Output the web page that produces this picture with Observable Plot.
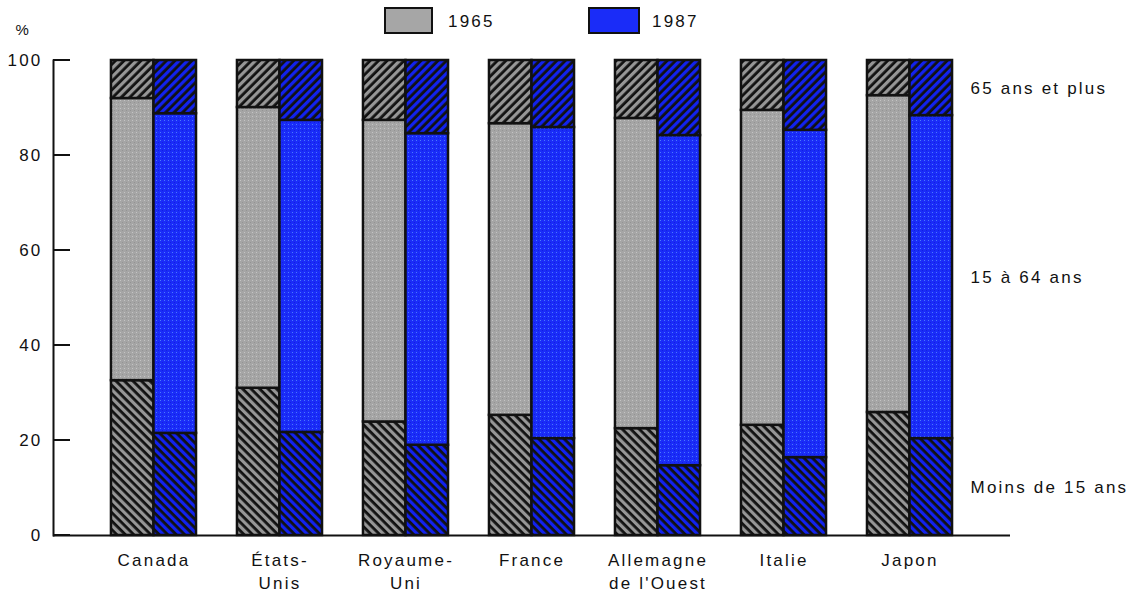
<!DOCTYPE html>
<html>
<head>
<meta charset="utf-8">
<script src="https://cdn.jsdelivr.net/npm/d3@7"></script>
<script src="https://cdn.jsdelivr.net/npm/@observablehq/plot@0.6"></script>
<style>
  body { margin: 0; background: #fff; font-family: "Liberation Sans", Arial, sans-serif; }
  #wrap { position: relative; width: 1141px; height: 600px; }
  .lg-sw { position: absolute; box-sizing: border-box; border: 2px solid #111; }
  .lg-tx { position: absolute; font-size: 17px; letter-spacing: 2.2px; color: #111; }
</style>
</head>
<body>
<div id="wrap">
  <div class="lg-sw" style="left:384px;top:7px;width:49px;height:27px;background:#a6a6a6;"></div>
  <div class="lg-tx" style="left:448px;top:12px;">1965</div>
  <div class="lg-sw" style="left:588px;top:7px;width:52px;height:27px;background:#1a2cf8;"></div>
  <div class="lg-tx" style="left:652px;top:12px;">1987</div>
</div>
<script>
// ---- data ----
const countries = ["Canada", "États-Unis", "Royaume-Uni", "France", "Allemagne de l'Ouest", "Italie", "Japon"];
const tickLabels = ["Canada", "États-\nUnis", "Royaume-\nUni", "France", "Allemagne\nde l'Ouest", "Italie", "Japon"];
const years = ["1965", "1987"];
const ageGroups = ["Moins de 15 ans", "15 à 64 ans", "65 ans et plus"];
const under15_1965 = [32.6, 31.0, 23.9, 25.3, 22.5, 23.2, 25.9];
const age15to64_1965 = [59.4, 59.1, 63.5, 61.4, 65.3, 66.3, 66.7];
const over65_1965 = [8.0, 9.9, 12.6, 13.3, 12.2, 10.5, 7.4];
const under15_1987 = [21.5, 21.7, 19.0, 20.4, 14.7, 16.4, 20.4];
const age15to64_1987 = [67.3, 65.7, 65.6, 65.5, 69.5, 68.9, 68.0];
const over65_1987 = [11.2, 12.6, 15.4, 14.1, 15.8, 14.7, 11.6];
const yTicks = [0, 20, 40, 60, 80, 100];
const yUnit = "%";

// ---- build rows (stacked) ----
const series = {
  "1965": [under15_1965, age15to64_1965, over65_1965],
  "1987": [under15_1987, age15to64_1987, over65_1987]
};
const patternIds = {
  "1965": ["hatchGreyB", "dotGrey", "hatchGreyF"],
  "1987": ["hatchBlueB", "dotBlue", "hatchBlueF"]
};
const rows = [];
for (const year of years) {
  countries.forEach((c, i) => {
    let acc = 0;
    ageGroups.forEach((g, k) => {
      const v = series[year][k][i];
      rows.push({country: c, year, group: g, y1: acc, y2: acc + v, fill: `url(#${patternIds[year][k]})`});
      acc += v;
    });
  });
}
const labelRows = ageGroups.map(g => rows.find(r => r.country === "Japon" && r.year === "1987" && r.group === g));

// ---- layout ----
const W = 1141, H = 600, mL = 53, mR = 131, mT = 60, mB = 65;
const padIn = 0.325, padOut = 0.46;
const step = (W - mL - mR) / (countries.length - padIn + 2 * padOut);
const bw = step * (1 - padIn);
const tickLen = 17;

const chart = Plot.plot({
  width: W, height: H,
  marginLeft: mL, marginRight: mR, marginTop: mT, marginBottom: mB,
  style: {fontFamily: "'Liberation Sans', Arial, sans-serif", fontSize: "17px", letterSpacing: "2.2px", color: "#111", background: "transparent"},
  x: {domain: countries, paddingInner: padIn, paddingOuter: padOut, round: false},
  y: {domain: [0, 100]},
  color: {type: "identity"},
  marks: [
    Plot.barY(rows.filter(r => r.year === "1965"), {x: "country", y1: "y1", y2: "y2", fill: "fill", stroke: "#111", strokeWidth: 2.5, insetRight: bw / 2}),
    Plot.barY(rows.filter(r => r.year === "1987"), {x: "country", y1: "y1", y2: "y2", fill: "fill", stroke: "#111", strokeWidth: 2.5, insetLeft: bw / 2}),
    Plot.axisX({tickSize: 0, tickPadding: 14, tickFormat: d => tickLabels[countries.indexOf(d)], lineHeight: 1.35, fontSize: 17, label: null}),
    Plot.axisY({ticks: yTicks, tickSize: 0, tickPadding: 11, fontSize: 17, label: null}),
    Plot.frame({anchor: "left", stroke: "#111", strokeWidth: 2}),
    Plot.ruleY([0], {stroke: "#111", strokeWidth: 2}),
    Plot.text([yUnit], {frameAnchor: "top-left", dx: -38, dy: -36, textAnchor: "start", fontSize: 15, fill: "#111"}),
    Plot.text(labelRows, {x: "country", y: d => (d.y1 + d.y2) / 2, text: "group", dx: bw / 2 + 18, textAnchor: "start", fontSize: 17, fill: "#111"})
  ]
});

// ---- inward y ticks, positioned through Plot's own y scale ----
const yScale = chart.scale("y");
const tickG = d3.select(chart).append("g").attr("class", "inward-ticks");
tickG.selectAll("line").data(yTicks).join("line")
  .attr("x1", mL).attr("x2", mL + tickLen)
  .attr("y1", d => yScale.apply(d)).attr("y2", d => yScale.apply(d))
  .attr("stroke", "#111").attr("stroke-width", 2);

// ---- patterns ----
const defs = d3.select(chart).insert("defs", ":first-child");
function dots(id, base, light, dark) {
  const p = defs.append("pattern").attr("id", id).attr("patternUnits", "userSpaceOnUse").attr("width", 4).attr("height", 4);
  p.append("rect").attr("width", 4).attr("height", 4).attr("fill", base);
  p.append("rect").attr("x", 0).attr("y", 0).attr("width", 1).attr("height", 1).attr("fill", light);
  p.append("rect").attr("x", 2).attr("y", 2).attr("width", 1).attr("height", 1).attr("fill", dark);
}
function hatch(id, stripe, angle) {
  const p = defs.append("pattern").attr("id", id).attr("patternUnits", "userSpaceOnUse").attr("width", 6).attr("height", 6).attr("patternTransform", `rotate(${angle})`);
  p.append("rect").attr("width", 6).attr("height", 6).attr("fill", "#111");
  p.append("rect").attr("width", 3.2).attr("height", 6).attr("fill", stripe);
}
dots("dotGrey", "#a5a5a5", "#c4c4c4", "#939393");
dots("dotBlue", "#1a2cf8", "#4a78ff", "#1020e0");
hatch("hatchGreyB", "#969696", -45);
hatch("hatchGreyF", "#969696", 45);
hatch("hatchBlueB", "#1222ee", -45);
hatch("hatchBlueF", "#1222ee", 45);

document.getElementById("wrap").prepend(chart);
</script>
</body>
</html>
